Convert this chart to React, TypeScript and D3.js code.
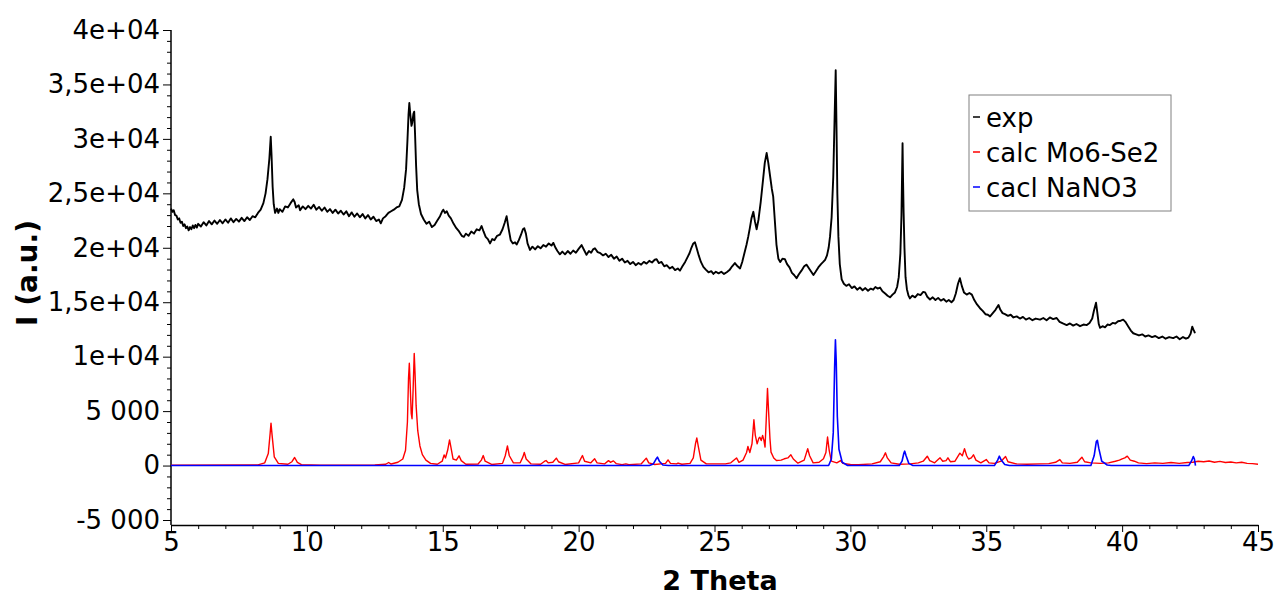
import { useEffect, useRef } from 'react';
import * as d3 from 'd3';

const W = 1281;
const H = 596;

// axis ticks
const xTickValues = [5, 10, 15, 20, 25, 30, 35, 40, 45];
const yTickValues = [-5000, 0, 5000, 10000, 15000, 20000, 25000, 30000, 35000, 40000];
const yTickLabels = ['-5 000', '0', '5 000', '1e+04', '1,5e+04', '2e+04', '2,5e+04', '3e+04', '3,5e+04', '4e+04'];

const seriesNames = ['exp', 'calc Mo6-Se2', 'cacl NaNO3'];
const seriesColors = ['#000000', '#ff0000', '#0000ff'];

// measured pattern [2theta, intensity]
const expPattern: [number, number][] = [
  [5.0, 23600], [5.05, 23300], [5.1, 23450], [5.15, 23000], [5.2, 22950], [5.25, 22600], [5.3, 22700], [5.35, 22300],
  [5.4, 22400], [5.45, 22000], [5.5, 22150], [5.55, 21800], [5.6, 21950], [5.65, 21600], [5.7, 21900], [5.75, 21700],
  [5.8, 22050], [5.85, 21800], [5.9, 22100], [5.95, 21850], [6.0, 22200], [6.1, 21950], [6.2, 22350], [6.3, 22050],
  [6.4, 22450], [6.5, 22150], [6.6, 22500], [6.7, 22200], [6.8, 22550], [6.9, 22250], [7.0, 22600], [7.1, 22300],
  [7.2, 22700], [7.3, 22350], [7.4, 22650], [7.5, 22400], [7.6, 22750], [7.7, 22450], [7.8, 22800], [7.9, 22550],
  [8.0, 22900], [8.1, 22800], [8.2, 23200], [8.3, 23500], [8.4, 24100], [8.48, 25000], [8.55, 26300], [8.62, 28200],
  [8.67, 30200], [8.7, 28500], [8.74, 25600], [8.78, 24000], [8.83, 23200], [8.9, 23600], [8.95, 23200], [9.0, 23550],
  [9.1, 23300], [9.2, 23800], [9.3, 23700], [9.4, 24100], [9.5, 24450], [9.55, 24200], [9.6, 23700], [9.7, 23900],
  [9.75, 23450], [9.85, 23800], [9.95, 23550], [10.05, 23850], [10.15, 23600], [10.25, 23950], [10.35, 23500], [10.45, 23750],
  [10.55, 23400], [10.65, 23700], [10.75, 23300], [10.85, 23550], [10.95, 23200], [11.05, 23500], [11.15, 23150], [11.25, 23400],
  [11.35, 23050], [11.45, 23350], [11.55, 22900], [11.65, 23250], [11.75, 22850], [11.85, 23150], [11.95, 22800], [12.05, 23100],
  [12.15, 22700], [12.25, 23000], [12.35, 22600], [12.45, 22850], [12.55, 22450], [12.65, 22600], [12.72, 22250], [12.8, 22700],
  [12.9, 22900], [13.0, 23200], [13.1, 23350], [13.2, 23500], [13.3, 23700], [13.4, 23800], [13.5, 24400], [13.58, 25500],
  [13.65, 27200], [13.7, 29800], [13.74, 32200], [13.77, 33300], [13.8, 32400], [13.85, 31200], [13.88, 31500], [13.92, 32300],
  [13.95, 32500], [13.98, 30500], [14.02, 27500], [14.06, 25300], [14.12, 24000], [14.2, 23100], [14.3, 22600], [14.4, 22200],
  [14.5, 22400], [14.6, 21900], [14.7, 22100], [14.8, 22500], [14.9, 22900], [14.97, 23300], [15.02, 23500], [15.08, 23200],
  [15.15, 23350], [15.22, 22950], [15.3, 22700], [15.4, 22200], [15.5, 21800], [15.6, 21500], [15.7, 21100], [15.78, 21000],
  [15.85, 21300], [15.95, 21100], [16.05, 21500], [16.15, 21300], [16.25, 21700], [16.35, 21600], [16.43, 22000], [16.5, 21500],
  [16.58, 21000], [16.66, 20800], [16.74, 20400], [16.82, 20800], [16.9, 20700], [17.0, 21100], [17.1, 21200], [17.2, 21700],
  [17.28, 22300], [17.35, 22900], [17.42, 21800], [17.5, 20700], [17.58, 20400], [17.66, 20500], [17.72, 20300], [17.8, 20700],
  [17.88, 21200], [17.95, 21700], [18.0, 21800], [18.06, 21300], [18.12, 20400], [18.21, 19800], [18.3, 20100], [18.4, 19850],
  [18.5, 20150], [18.6, 19950], [18.7, 20250], [18.8, 20100], [18.9, 20400], [19.0, 20200], [19.07, 20450], [19.15, 20000],
  [19.22, 19700], [19.31, 19400], [19.4, 19650], [19.5, 19400], [19.6, 19700], [19.7, 19450], [19.8, 19750], [19.9, 19550],
  [20.0, 19900], [20.11, 20250], [20.2, 19800], [20.29, 19350], [20.38, 19700], [20.46, 19550], [20.53, 19850], [20.6, 19950],
  [20.7, 19600], [20.8, 19500], [20.9, 19300], [21.0, 19450], [21.1, 19150], [21.2, 19350], [21.3, 19000], [21.4, 19200],
  [21.5, 18800], [21.6, 19000], [21.7, 18650], [21.8, 18800], [21.9, 18500], [22.0, 18700], [22.1, 18400], [22.2, 18600],
  [22.3, 18450], [22.4, 18700], [22.5, 18550], [22.6, 18800], [22.7, 18650], [22.8, 18900], [22.87, 18950], [22.95, 18600],
  [23.05, 18700], [23.15, 18300], [23.24, 18400], [23.35, 18100], [23.45, 18250], [23.55, 17950], [23.65, 18100], [23.73, 17900],
  [23.82, 18300], [23.92, 18700], [24.0, 19100], [24.08, 19500], [24.15, 20000], [24.22, 20400], [24.28, 20500], [24.34, 20000],
  [24.42, 19300], [24.5, 18700], [24.59, 18250], [24.68, 18000], [24.78, 17750], [24.88, 17850], [24.96, 17600], [25.05, 17800],
  [25.15, 17650], [25.25, 17800], [25.35, 17600], [25.45, 17750], [25.55, 17950], [25.65, 18300], [25.75, 18600], [25.85, 18300],
  [25.94, 18100], [26.02, 18700], [26.1, 19500], [26.18, 20300], [26.24, 21000], [26.3, 21800], [26.36, 22700], [26.43, 23300],
  [26.49, 22400], [26.55, 21700], [26.62, 22600], [26.7, 24200], [26.78, 26100], [26.85, 27800], [26.92, 28700], [26.98, 27800],
  [27.05, 26500], [27.11, 25400], [27.16, 24700], [27.22, 22500], [27.28, 20300], [27.35, 19000], [27.42, 18700], [27.5, 19000],
  [27.59, 18950], [27.67, 18500], [27.76, 18200], [27.85, 17700], [27.93, 17500], [28.02, 17200], [28.1, 17550], [28.2, 17900],
  [28.3, 18300], [28.39, 18450], [28.48, 18100], [28.56, 17800], [28.64, 17500], [28.72, 17800], [28.82, 18200], [28.92, 18500],
  [29.0, 18700], [29.07, 18900], [29.14, 19300], [29.2, 20000], [29.25, 21000], [29.31, 22800], [29.37, 26500], [29.42, 32000],
  [29.46, 36300], [29.49, 31000], [29.52, 25000], [29.56, 21000], [29.61, 18500], [29.68, 17100], [29.76, 16700], [29.85, 16500],
  [29.95, 16650], [30.05, 16300], [30.15, 16450], [30.25, 16150], [30.35, 16350], [30.45, 16100], [30.55, 16300], [30.65, 16050],
  [30.75, 16250], [30.84, 16150], [30.92, 16400], [31.0, 16250], [31.09, 16350], [31.18, 16000], [31.28, 15800], [31.37, 15600],
  [31.46, 15450], [31.55, 15700], [31.64, 15900], [31.72, 16400], [31.78, 17300], [31.84, 19500], [31.88, 23000], [31.92, 29600],
  [31.94, 26000], [31.96, 23200], [31.99, 20000], [32.03, 17300], [32.08, 16200], [32.14, 15600], [32.19, 15350], [32.28, 15600],
  [32.38, 15450], [32.48, 15750], [32.58, 15650], [32.68, 15950], [32.75, 15900], [32.83, 15500], [32.93, 15250], [33.03, 15450],
  [33.13, 15200], [33.23, 15400], [33.33, 15150], [33.43, 15300], [33.53, 15050], [33.62, 15200], [33.72, 15000], [33.8, 15200],
  [33.88, 15800], [33.96, 16700], [34.03, 17200], [34.1, 16500], [34.18, 15900], [34.28, 15700], [34.38, 15850], [34.47, 15700],
  [34.56, 15200], [34.66, 14800], [34.77, 14450], [34.87, 14200], [34.97, 13900], [35.06, 13850], [35.14, 13700], [35.24, 14000],
  [35.34, 14300], [35.45, 14750], [35.52, 14300], [35.6, 14000], [35.69, 13900], [35.8, 13750], [35.9, 13850], [36.0, 13600],
  [36.12, 13700], [36.24, 13500], [36.35, 13650], [36.46, 13400], [36.58, 13550], [36.7, 13350], [36.82, 13500], [36.98, 13400],
  [37.1, 13550], [37.22, 13350], [37.34, 13600], [37.46, 13450], [37.59, 13550], [37.7, 13200], [37.82, 13050], [37.96, 12900],
  [38.08, 13050], [38.2, 12850], [38.32, 13000], [38.45, 12800], [38.58, 12950], [38.7, 12900], [38.8, 13100], [38.9, 13500],
  [38.96, 14200], [39.04, 14950], [39.09, 14000], [39.14, 13000], [39.19, 12650], [39.28, 12800], [39.37, 12700], [39.46, 12950],
  [39.55, 12900], [39.65, 13100], [39.75, 13050], [39.85, 13250], [39.95, 13300], [40.04, 13400], [40.12, 13200], [40.22, 12800],
  [40.32, 12400], [40.41, 12150], [40.52, 12050], [40.62, 11950], [40.74, 12050], [40.85, 11850], [40.97, 11950], [41.1, 11800],
  [41.22, 11900], [41.35, 11700], [41.48, 11850], [41.6, 11650], [41.73, 11800], [41.88, 11700], [42.0, 11850], [42.12, 11600],
  [42.24, 11800], [42.35, 11650], [42.44, 11750], [42.52, 12100], [42.58, 12750], [42.62, 12500], [42.66, 12300], [42.68, 12150],
];

// calculated Mo6-Se2 pattern
const calcMoSe: [number, number][] = [
  [5.0, 30], [8.2, 60], [8.45, 250], [8.58, 1100], [8.65, 3000], [8.68, 3900], [8.72, 2800], [8.8, 800], [8.95, 200],
  [9.3, 120], [9.45, 350], [9.55, 740], [9.65, 300], [9.8, 90], [10.5, 40], [12.5, 60], [12.9, 120], [13.01, 280],
  [13.1, 140], [13.35, 300], [13.53, 600], [13.63, 1400], [13.7, 4000], [13.74, 8000], [13.77, 9400], [13.8, 7500],
  [13.84, 4800], [13.87, 4300], [13.91, 7000], [13.95, 10300], [13.98, 8500], [14.02, 5500], [14.08, 3200], [14.16, 1800],
  [14.25, 1000], [14.38, 500], [14.55, 200], [14.8, 120], [14.98, 400], [15.05, 980], [15.1, 700], [15.18, 1400],
  [15.25, 2350], [15.3, 1700], [15.38, 600], [15.5, 500], [15.6, 900], [15.68, 450], [15.85, 120], [16.3, 140],
  [16.42, 500], [16.49, 920], [16.56, 400], [16.8, 100], [17.2, 200], [17.3, 900], [17.38, 1800], [17.45, 900],
  [17.6, 250], [17.85, 250], [17.95, 800], [18.0, 1200], [18.07, 600], [18.25, 150], [18.6, 120], [18.75, 400],
  [18.8, 460], [18.88, 250], [19.05, 300], [19.18, 680], [19.26, 350], [19.5, 100], [20.0, 250], [20.14, 920],
  [20.22, 400], [20.45, 250], [20.59, 620], [20.68, 250], [20.95, 150], [21.1, 450], [21.17, 300], [21.28, 430],
  [21.38, 180], [21.6, 80], [21.74, 150], [21.85, 80], [22.3, 150], [22.49, 680], [22.58, 250], [22.8, 100],
  [23.2, 200], [23.29, 520], [23.38, 200], [23.6, 150], [23.66, 230], [23.8, 120], [24.1, 200], [24.22, 700],
  [24.3, 2000], [24.35, 2530], [24.4, 1800], [24.5, 500], [24.7, 150], [25.4, 150], [25.6, 250], [25.81, 700],
  [25.9, 300], [26.05, 500], [26.18, 1200], [26.23, 1750], [26.3, 1200], [26.38, 2000], [26.45, 4200], [26.5, 2800],
  [26.57, 2000], [26.63, 2500], [26.67, 2600], [26.72, 2300], [26.77, 2770], [26.82, 2300], [26.86, 1700], [26.9, 4000],
  [26.95, 7080], [26.99, 5000], [27.04, 2500], [27.08, 1230], [27.18, 700], [27.28, 460], [27.45, 500], [27.57, 620],
  [27.7, 700], [27.81, 990], [27.9, 600], [28.07, 220], [28.3, 500], [28.43, 1540], [28.5, 900], [28.63, 250],
  [28.85, 300], [29.01, 620], [29.1, 1200], [29.16, 2620], [29.22, 1400], [29.3, 400], [29.5, 250], [29.64, 460],
  [29.72, 200], [30.0, 100], [30.3, 80], [30.8, 150], [31.1, 350], [31.22, 800], [31.29, 1170], [31.36, 700],
  [31.5, 250], [31.8, 120], [32.2, 150], [32.5, 250], [32.68, 400], [32.83, 860], [32.92, 450], [33.1, 250],
  [33.3, 710], [33.4, 400], [33.52, 450], [33.59, 710], [33.68, 350], [33.85, 400], [34.03, 1140], [34.12, 900],
  [34.2, 1540], [34.28, 900], [34.35, 600], [34.45, 700], [34.53, 990], [34.62, 500], [34.8, 250], [35.0, 550],
  [35.1, 250], [35.3, 200], [35.55, 400], [35.71, 830], [35.8, 350], [36.1, 150], [36.5, 120], [36.97, 150],
  [37.3, 180], [37.55, 300], [37.71, 550], [37.8, 250], [38.08, 200], [38.35, 300], [38.52, 770], [38.62, 350],
  [38.85, 250], [39.2, 200], [39.5, 250], [39.75, 400], [39.9, 500], [40.0, 620], [40.1, 700], [40.19, 860],
  [40.3, 500], [40.45, 400], [40.6, 250], [40.9, 180], [41.2, 250], [41.5, 200], [41.8, 280], [42.1, 200],
  [42.4, 280], [42.6, 300], [42.8, 400], [43.0, 350], [43.2, 420], [43.4, 300], [43.6, 380], [43.8, 280],
  [44.0, 330], [44.2, 250], [44.4, 300], [44.6, 200], [44.8, 180], [45.0, 120],
];

// calculated NaNO3 pattern
const calcNaNO3: [number, number][] = [
  [5.0, 0], [22.6, 0], [22.75, 150], [22.85, 600], [22.9, 770], [22.97, 400], [23.1, 50], [23.3, 0],
  [29.2, 0], [29.3, 600], [29.37, 3000], [29.42, 9000], [29.45, 11550], [29.48, 9500], [29.52, 4500], [29.58, 1500],
  [29.7, 300], [29.9, 0], [31.8, 0], [31.9, 400], [31.97, 1150], [32.0, 1320], [32.05, 900], [32.15, 200],
  [32.3, 0], [35.3, 0], [35.42, 500], [35.48, 860], [35.55, 500], [35.68, 100], [35.85, 0], [38.85, 0],
  [38.97, 900], [39.05, 2200], [39.09, 2310], [39.14, 1600], [39.25, 400], [39.45, 50], [39.6, 0], [42.45, 0],
  [42.55, 400], [42.62, 830], [42.66, 600], [42.7, 0],
];

const FONT = '"DejaVu Sans", Verdana, sans-serif';

const XrdChart = () => {
  const svgRef = useRef<SVGSVGElement | null>(null);

  useEffect(() => {
    const svg = d3.select(svgRef.current);
    svg.selectAll('*').remove();

    const x = d3.scaleLinear().domain([5, 45]).range([171, 1258]);
    const y = d3.scaleLinear().domain([-5000, 40000]).range([520, 30]);
    const axisY = 525;

    svg.append('rect').attr('width', W).attr('height', H).attr('fill', '#fff');

    // y axis
    const yMinor = d3.range(-5000, 40001, 1000).filter((v) => v % 5000 !== 0);
    svg
      .append('g')
      .attr('transform', `translate(${x(5)},0)`)
      .call(d3.axisLeft(y).tickValues(yMinor).tickSize(4).tickFormat(() => ''))
      .call((g) => g.select('.domain').remove());
    const gy = svg
      .append('g')
      .attr('transform', `translate(${x(5)},0)`)
      .call(
        d3
          .axisLeft(y)
          .tickValues(yTickValues)
          .tickSize(8)
          .tickPadding(3)
          .tickFormat((_, i) => yTickLabels[i])
      );
    gy.select('.domain').remove();
    gy.selectAll('text').style('font-family', FONT).style('font-size', '26px').attr('fill', '#000');

    svg
      .append('line')
      .attr('x1', x(5))
      .attr('x2', x(5))
      .attr('y1', y(40000))
      .attr('y2', axisY)
      .attr('stroke', '#000')
      .attr('stroke-width', 1.5);

    // x axis
    const xMinor = d3.range(5, 46, 1).filter((v) => v % 5 !== 0);
    svg
      .append('g')
      .attr('transform', `translate(0,${axisY})`)
      .call(d3.axisBottom(x).tickValues(xMinor).tickSize(4).tickFormat(() => ''))
      .call((g) => g.select('.domain').remove());
    const gx = svg
      .append('g')
      .attr('transform', `translate(0,${axisY})`)
      .call(d3.axisBottom(x).tickValues(xTickValues).tickSize(7).tickSizeOuter(0).tickPadding(1));
    gx.select('.domain').attr('stroke-width', 1.5);
    gx.selectAll('text').style('font-family', FONT).style('font-size', '26px').attr('fill', '#000');

    // titles
    svg
      .append('text')
      .attr('x', 720)
      .attr('y', 590)
      .attr('text-anchor', 'middle')
      .style('font-family', FONT)
      .style('font-size', '27px')
      .style('font-weight', 'bold')
      .text('2 Theta');
    svg
      .append('text')
      .attr('transform', 'translate(37,273) rotate(-90)')
      .attr('text-anchor', 'middle')
      .style('font-family', FONT)
      .style('font-size', '28px')
      .style('font-weight', 'bold')
      .text('I (a.u.)');

    // patterns
    const line = d3
      .line<[number, number]>()
      .x((d) => x(d[0]))
      .y((d) => y(d[1]));

    const series = [expPattern, calcMoSe, calcNaNO3];
    const widths = [1.9, 1.4, 1.6];
    series.forEach((s, i) => {
      svg
        .append('path')
        .datum(s)
        .attr('d', line)
        .attr('fill', 'none')
        .attr('stroke', seriesColors[i])
        .attr('stroke-width', widths[i])
        .attr('stroke-linejoin', 'round');
    });

    // legend
    const lg = svg.append('g').attr('transform', 'translate(969,95)');
    lg.append('rect')
      .attr('width', 202)
      .attr('height', 116)
      .attr('fill', '#fff')
      .attr('stroke', '#808080')
      .attr('stroke-width', 1);
    seriesNames.forEach((name, i) => {
      const cy = 22 + i * 35;
      lg.append('line')
        .attr('x1', 4)
        .attr('x2', 11)
        .attr('y1', cy)
        .attr('y2', cy)
        .attr('stroke', seriesColors[i])
        .attr('stroke-width', 1.5);
      lg.append('text')
        .attr('x', 17)
        .attr('y', cy + 10)
        .style('font-family', FONT)
        .style('font-size', '26px')
        .text(name);
    });
  }, []);

  return <svg ref={svgRef} width={W} height={H} style={{ position: 'absolute', left: 0, top: 0, display: 'block' }} />;
};

export default function App() {
  return (
    <div>
      <XrdChart />
    </div>
  );
}
